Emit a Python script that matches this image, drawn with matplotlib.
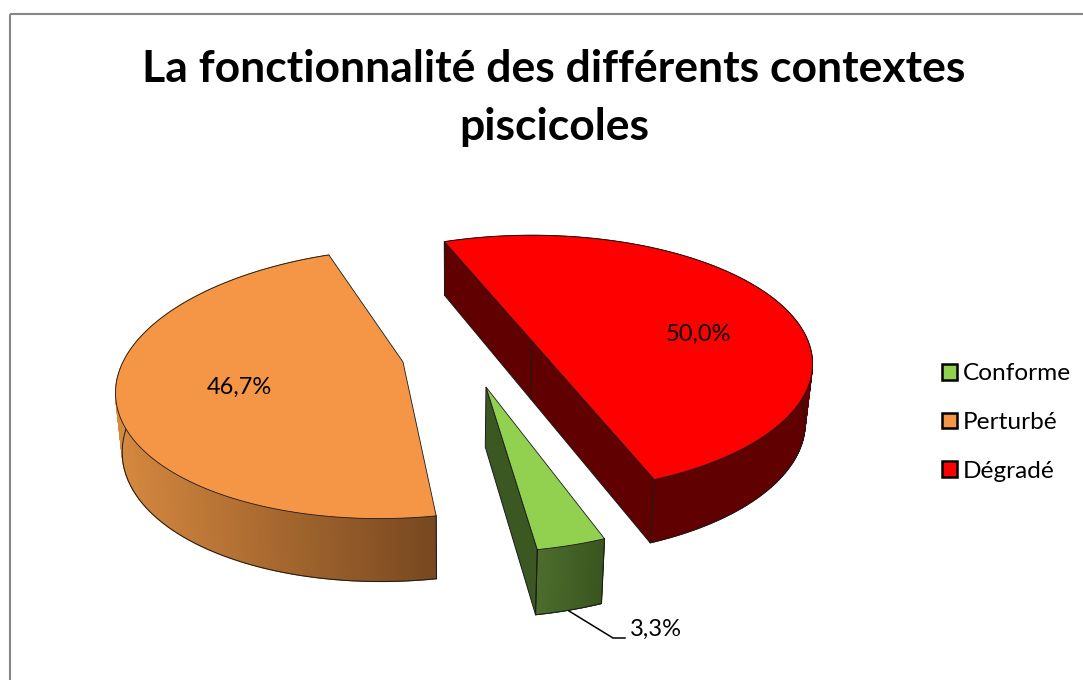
import matplotlib
matplotlib.use("Agg")
import matplotlib.pyplot as plt
from matplotlib.colors import to_rgb
from matplotlib.patches import Patch, Rectangle
import numpy as np

plt.rcParams['font.family'] = ['Lato', 'DejaVu Sans']

title = "La fonctionnalité des différents contextes\npiscicoles"
categories = ["Conforme", "Perturbé", "Dégradé"]
values = [3.3, 46.7, 50.0]
top_colors = ["#92D050", "#F59647", "#FF0000"]
wall_left = ["#4C6E2C", "#D6893F", "#600000"]
wall_right = ["#3A5520", "#784820", "#600000"]
chord_colors = ["#3B5722", None, "#600000"]

# apex x, apex y, radius x, radius y, shear, perspective
views = [
    (486, 387, 288, 139, 6, 0.16),
    (403, 362, 280, 132, 20, 0.157),
    (532, 341, 276, 124.5, 0, 0.178),
]
depths = [60, 58, 58]
# which screen range the wall shading runs over
wall_spans = [(537, 605), (117, 435), (532, 811)]
label_pos = [(656, 629), (239, 387), (698, 334)]
start_angle = 158.3
vanish_x = 450
line_color = "#1a1a1a"


def project(theta, view):
    ax0, ay0, rx, ry, shear, k = view
    u = np.sin(np.radians(theta))
    v = np.cos(np.radians(theta))
    w = 1 + k * v
    return ax0 + (rx * u + shear * v) / w, ay0 - ry * v / w


def drop(x, y, theta, view, depth):
    v = np.cos(np.radians(theta))
    d = depth / (1 + 0.5 * view[5] * v)
    return x + (vanish_x - x) * 0.02, y + d


fig = plt.figure(figsize=(10.83, 6.80), dpi=100)
ax = fig.add_axes([0, 0, 1, 1])
ax.set_xlim(0, 1083)
ax.set_ylim(680, 0)
ax.axis("off")

ax.add_patch(Rectangle((9.5, 14), 1200, 800, fill=False, edgecolor="#868686", linewidth=1.5))

angles = [360 * val / sum(values) for val in values]
starts = start_angle + np.cumsum([0] + angles[:-1])

for i in [1, 2, 0]:
    view = views[i]
    depth = depths[i]
    thetas = np.linspace(starts[i], starts[i] + angles[i], 240)
    x, y = project(thetas, view)
    xb, yb = drop(x, y, thetas, view, depth)
    z = 2 + i
    left = np.array(to_rgb(wall_left[i]))
    right = np.array(to_rgb(wall_right[i]))
    # base under the slices so that no seams show through
    ax.fill(np.r_[x, xb[::-1]], np.r_[y, yb[::-1]], color=(left + right) / 2, linewidth=0, zorder=z)
    # outer wall, cut in thin slices for the shading
    x0, x1 = wall_spans[i]
    for j in range(len(thetas) - 1):
        t = np.clip((x[j] - x0) / (x1 - x0), 0, 1)
        ax.fill([x[j], x[j + 1], xb[j + 1], xb[j]], [y[j], y[j + 1], yb[j + 1], yb[j]],
                color=left + (right - left) * t, linewidth=0.8, zorder=z)
    ax.plot(xb, yb, color=line_color, linewidth=0.7, zorder=z)
    apex_x = view[0] + (vanish_x - view[0]) * 0.02
    apex_y = view[1] + depth
    # flat face on the cut side
    if i == 2:
        ax.fill([x[0], x[-1], xb[-1], xb[0]], [y[0], y[-1], yb[-1], yb[0]],
                facecolor=chord_colors[i], edgecolor=line_color, linewidth=0.7, zorder=z)
        ax.plot([view[0], apex_x], [view[1], apex_y], color=line_color, linewidth=0.7, zorder=z)
    if i == 0:
        ax.fill([view[0], x[-1], xb[-1], apex_x], [view[1], y[-1], yb[-1], apex_y],
                facecolor=chord_colors[i], edgecolor=line_color, linewidth=0.7, zorder=z)
        ax.plot([x[-1], xb[-1]], [y[-1], yb[-1]], color=line_color, linewidth=0.7, zorder=z)
    ax.plot([x[0], xb[0]], [y[0], yb[0]], color=line_color, linewidth=0.7, zorder=z)
    ax.fill(np.r_[view[0], x], np.r_[view[1], y], facecolor=top_colors[i],
            edgecolor=line_color, linewidth=0.6, zorder=z + 0.5)

for val, pos in zip(values, label_pos):
    ax.text(pos[0], pos[1], f"{val:.1f}%".replace(".", ","), fontsize=17, color="black",
            ha="center", va="center", zorder=8)

# leader line of the small slice
ax.plot([569, 613, 625], [611, 638, 638], color="black", linewidth=1.1, zorder=8)

fig.text(554 / 1083, 1 - 98 / 680, title, fontsize=32, fontweight="bold", color="black",
         ha="center", va="center", linespacing=1.55)

handles = [Patch(facecolor=c, edgecolor="black", linewidth=1.8) for c in top_colors]
ax.legend(handles, categories, loc="center left", bbox_to_anchor=(934.5 / 1083, 1 - 422.5 / 680),
          frameon=False, fontsize=17.6, handlelength=0.6, handleheight=0.6, handletextpad=0.25,
          labelspacing=1.13, borderpad=0.3, borderaxespad=0)

fig.savefig("out.png", dpi=100, facecolor="white")
